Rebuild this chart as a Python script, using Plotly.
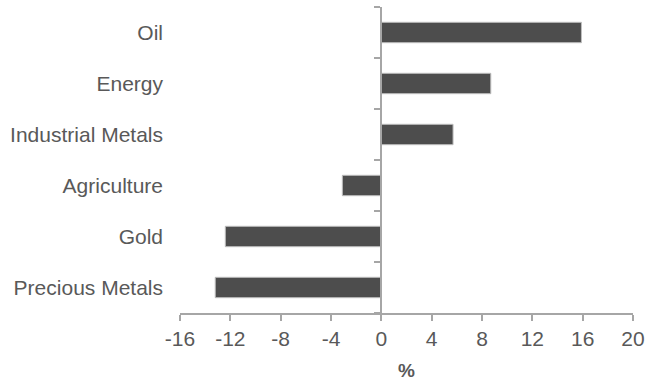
import plotly.graph_objects as go

categories = ["Precious Metals", "Gold", "Agriculture", "Industrial Metals", "Energy", "Oil"]
values = [-13.2, -12.4, -3.1, 5.7, 8.7, 15.9]
x_ticks = [-16, -12, -8, -4, 0, 4, 8, 12, 16, 20]
x_range = [-16, 20]

font_family = "Liberation Sans, Arial, sans-serif"
text_color = "#595959"
axis_color = "#a6a6a6"

fig = go.Figure()
fig.add_trace(go.Bar(
    x=values, y=categories, orientation="h",
    marker=dict(color="#4d4d4d", line=dict(color="#bfbfbf", width=1)),
    xaxis="x", yaxis="y", showlegend=False, hoverinfo="x+y",
))
# invisible helper trace to draw the y axis line at x=0
fig.add_trace(go.Scatter(
    x=[0] * len(categories), y=categories, mode="markers",
    marker=dict(opacity=0), xaxis="x", yaxis="y2", showlegend=False, hoverinfo="skip",
))

zero_pos = (0 - x_range[0]) / (x_range[1] - x_range[0])

fig.update_layout(
    width=645, height=381,
    margin=dict(l=180, r=12, t=7, b=68),
    paper_bgcolor="white", plot_bgcolor="white",
    font=dict(family=font_family, size=21, color=text_color),
    bargap=0.6,
    xaxis=dict(
        range=x_range, tickvals=x_ticks, ticktext=[str(v) for v in x_ticks],
        showgrid=False, zeroline=False, automargin=False,
        showline=True, linecolor=axis_color, linewidth=2,
        ticks="outside", ticklen=6, tickcolor=axis_color, tickwidth=2,
        title=dict(text="<b>%</b>", font=dict(size=19, color=text_color), standoff=14),
        fixedrange=True,
    ),
    yaxis=dict(
        type="category", categoryorder="array", categoryarray=categories,
        range=[-0.5, len(categories) - 0.5],
        showgrid=False, zeroline=False, showline=False, ticks="",
        ticklabelstandoff=16, automargin=False,
        fixedrange=True,
    ),
    yaxis2=dict(
        type="category", categoryorder="array", categoryarray=categories,
        range=[-0.5, len(categories) - 0.5],
        overlaying="y", anchor="free", position=zero_pos, side="left",
        showgrid=False, zeroline=False,
        showline=True, linecolor=axis_color, linewidth=2,
        ticks="outside", tickson="boundaries", ticklen=6, tickcolor=axis_color, tickwidth=2,
        showticklabels=False, fixedrange=True,
    ),
)

fig.write_html("out.html")
